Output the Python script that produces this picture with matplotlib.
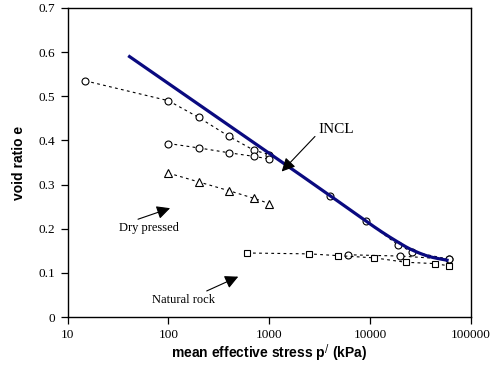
import matplotlib
matplotlib.use("Agg")
import matplotlib.pyplot as plt
import numpy as np

# ---- data ----
s1_p = [15, 100, 200, 400, 700, 1000]
s1_e = [0.535, 0.490, 0.452, 0.409, 0.378, 0.368]

s2_p = [100, 200, 400, 700, 1000]
s2_e = [0.393, 0.383, 0.372, 0.364, 0.358]

tri_p = [100, 200, 400, 700, 1000]
tri_e = [0.326, 0.306, 0.286, 0.269, 0.257]

hi_p = [4000, 9000, 19000, 26000, 60000]
hi_e = [0.275, 0.218, 0.163, 0.148, 0.131]

lo_p = [6000, 20000, 60000]
lo_e = [0.141, 0.138, 0.131]

sq_p = [600, 2500, 4800, 11000, 22500, 43500, 60000]
sq_e = [0.145, 0.143, 0.139, 0.134, 0.124, 0.121, 0.116]

incl_p = [40, 1000, 4000, 9000, 12600, 17000, 26000, 40000, 60000]
incl_e = [0.592, 0.371, 0.275, 0.218, 0.195, 0.176, 0.152, 0.136, 0.128]

x_ticks = [10, 100, 1000, 10000, 100000]
x_ticklabels = ["10", "100", "1000", "10000", "100000"]
y_ticks = [0, 0.1, 0.2, 0.3, 0.4, 0.5, 0.6, 0.7]
y_ticklabels = ["0", "0.1", "0.2", "0.3", "0.4", "0.5", "0.6", "0.7"]

fig = plt.figure(figsize=(4.94, 3.85), dpi=100)
ax = fig.add_axes([67.5/494, 1-317/385, (471-67.5)/494, (317-8)/385])

dash = dict(color="black", lw=0.8, linestyle=(0, (2.5, 3)))
mk = dict(mfc="white", mec="black", mew=0.8)

ax.plot(s1_p, s1_e, marker="o", ms=5, **dash, **mk, zorder=3)
ax.plot(s2_p, s2_e, marker="o", ms=5, **dash, **mk, zorder=3)
ax.plot(tri_p, tri_e, marker="^", ms=6, **dash, **mk, zorder=3)
ax.plot(hi_p, hi_e, marker="o", ms=5, **dash, **mk, zorder=3)
ax.plot(lo_p, lo_e, marker="o", ms=5, **dash, **mk, zorder=3)
ax.plot(sq_p, sq_e, marker="s", ms=5, **dash, **mk, zorder=3)


def pchip(x, y, xn):
    x = np.asarray(x); y = np.asarray(y)
    h = np.diff(x); d = np.diff(y)/h
    m = np.zeros_like(y)
    m[0] = d[0]; m[-1] = d[-1]
    for i in range(1, len(y)-1):
        if d[i-1]*d[i] <= 0:
            m[i] = 0
        else:
            w1 = 2*h[i]+h[i-1]; w2 = h[i]+2*h[i-1]
            m[i] = (w1+w2)/(w1/d[i-1]+w2/d[i])
    out = np.empty_like(xn)
    for j, xv in enumerate(xn):
        k = min(max(np.searchsorted(x, xv)-1, 0), len(x)-2)
        t = (xv-x[k])/h[k]
        h00 = 2*t**3-3*t**2+1; h10 = t**3-2*t**2+t
        h01 = -2*t**3+3*t**2; h11 = t**3-t**2
        out[j] = h00*y[k]+h10*h[k]*m[k]+h01*y[k+1]+h11*h[k]*m[k+1]
    return out

lx = np.log10(incl_p)
xs = np.linspace(lx[0], lx[-1], 400)
ys = pchip(lx, incl_e, xs)
ax.plot(10**xs, ys, color="#0a0a80", lw=2.3, zorder=4, solid_capstyle="butt")

ax.set_xscale("log")
ax.set_xlim(10, 100000)
ax.set_ylim(0, 0.7)
ax.set_xticks(x_ticks)
ax.set_xticklabels(x_ticklabels)
ax.set_yticks(y_ticks)
ax.set_yticklabels(y_ticklabels)
ax.xaxis.set_minor_locator(matplotlib.ticker.NullLocator())

serif = "Liberation Serif"
for lab in ax.get_xticklabels() + ax.get_yticklabels():
    lab.set_fontfamily(serif)
    lab.set_fontsize(9.5)
ax.tick_params(axis="both", direction="out", length=5, width=0.9, color="black")
ax.tick_params(axis="x", pad=4)
ax.tick_params(axis="y", pad=4)
for sp in ax.spines.values():
    sp.set_linewidth(1.0)
    sp.set_color("black")

ax.set_xlabel("mean effective stress p$^{/}$ (kPa)", fontfamily="Liberation Sans",
              fontweight="bold", fontsize=10, labelpad=1)
ax.set_ylabel("void ratio e", fontfamily="Liberation Sans", fontweight="bold",
              fontsize=10, labelpad=9)

arrow = dict(arrowstyle="-|>,head_length=0.8,head_width=0.4", color="black",
             lw=0.8, shrinkA=0, shrinkB=0)
ax.annotate("", xy=(1327, 0.3295), xytext=(2840, 0.409), arrowprops=arrow, zorder=5)
ax.text(3100, 0.424, "INCL", fontfamily=serif, fontsize=11, va="center", ha="left")

ax.annotate("", xy=(104, 0.2465), xytext=(50, 0.2215), arrowprops=arrow, zorder=5)
ax.text(64, 0.202, "Dry pressed", fontfamily=serif, fontsize=9, va="center", ha="center")

ax.annotate("", xy=(493, 0.0914), xytext=(240, 0.059), arrowprops=arrow, zorder=5)
ax.text(140, 0.0385, "Natural rock", fontfamily=serif, fontsize=9, va="center", ha="center")

fig.savefig("out.png", dpi=100)
